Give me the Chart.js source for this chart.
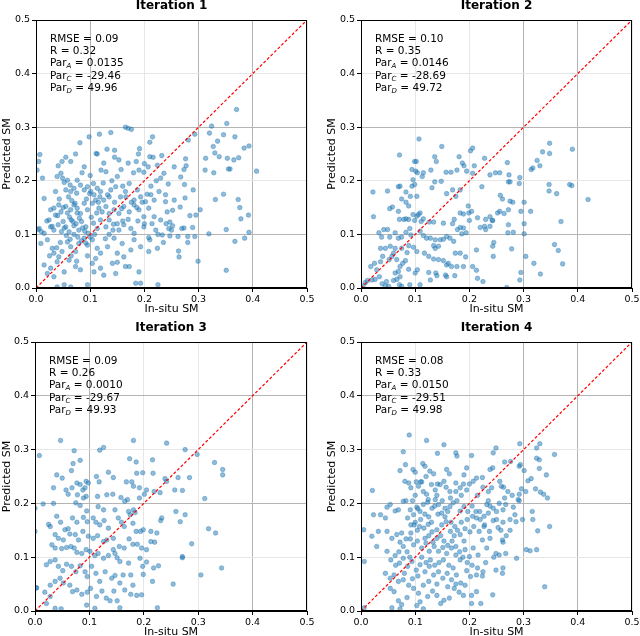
<!DOCTYPE html>
<html>
<head>
<meta charset="utf-8">
<script src="https://cdn.jsdelivr.net/npm/chart.js@4"></script>
<style>
  html, body { margin: 0; padding: 0; background: #fff; overflow: hidden; }
  .panel { position: absolute; width: 320px; }
</style>
</head>
<body>
<div class="panel" style="left:0;top:0;height:318px"><canvas id="c1"></canvas></div>
<div class="panel" style="left:320px;top:0;height:318px"><canvas id="c2"></canvas></div>
<div class="panel" style="left:0;top:318px;height:323px"><canvas id="c3"></canvas></div>
<div class="panel" style="left:320px;top:318px;height:323px"><canvas id="c4"></canvas></div>
<script>
// --- data ---
const titles = ["Iteration 1", "Iteration 2", "Iteration 3", "Iteration 4"];
const rmse = ["0.09", "0.10", "0.09", "0.08"];
const rVals = ["0.32", "0.35", "0.26", "0.33"];
const parA = ["0.0135", "0.0146", "0.0010", "0.0150"];
const parC = ["-29.46", "-28.69", "-29.67", "-29.51"];
const parD = ["49.96", "49.72", "49.93", "49.98"];
const tickVals = [0, 0.1, 0.2, 0.3, 0.4, 0.5];
const oneToOne = [[0, 0], [0.5, 0.5]];

// [in-situ, predicted]
const points1 = [
  [0.370,0.333],[0.352,0.307],[0.324,0.302],[0.320,0.289],[0.346,0.286],[0.367,0.282],[0.293,0.287],[0.281,0.276],
  [0.335,0.274],[0.327,0.264],[0.384,0.261],[0.393,0.265],[0.330,0.252],[0.338,0.245],[0.313,0.242],[0.353,0.242],
  [0.365,0.239],[0.374,0.243],[0.276,0.241],[0.255,0.226],[0.277,0.228],[0.273,0.221],[0.312,0.220],[0.328,0.215],
  [0.355,0.222],[0.358,0.222],[0.407,0.218],[0.267,0.207],[0.274,0.193],[0.290,0.183],[0.346,0.175],[0.255,0.164],
  [0.275,0.168],[0.331,0.165],[0.373,0.165],[0.266,0.151],[0.376,0.150],[0.303,0.146],[0.252,0.145],[0.284,0.135],
  [0.295,0.136],[0.392,0.136],[0.378,0.129],[0.247,0.123],[0.252,0.116],[0.269,0.111],[0.273,0.112],[0.289,0.113],
  [0.351,0.109],[0.393,0.104],[0.247,0.097],[0.262,0.096],[0.280,0.096],[0.293,0.096],[0.319,0.101],[0.385,0.093],
  [0.367,0.087],[0.280,0.085],[0.263,0.069],[0.264,0.058],[0.299,0.050],[0.351,0.033],
  [0.165,0.300],[0.170,0.298],[0.176,0.296],[0.098,0.282],[0.117,0.287],[0.138,0.290],[0.081,0.271],[0.215,0.282],
  [0.210,0.272],[0.145,0.257],[0.131,0.259],[0.111,0.251],[0.113,0.250],[0.073,0.250],[0.191,0.260],[0.189,0.250],
  [0.216,0.244],[0.232,0.247],[0.007,0.249],[0.005,0.236],[0.002,0.220],[0.055,0.244],[0.048,0.236],[0.064,0.236],
  [0.041,0.228],[0.089,0.226],[0.125,0.233],[0.129,0.217],[0.145,0.244],[0.153,0.239],[0.170,0.233],[0.157,0.221],
  [0.185,0.236],[0.190,0.220],[0.207,0.226],[0.199,0.216],[0.224,0.229],[0.236,0.214],[0.244,0.194],[0.239,0.174],
  [0.012,0.205],[0.004,0.109],
  [0.015,0.167],[0.039,0.208],[0.046,0.214],[0.049,0.205],[0.052,0.197],[0.058,0.201],[0.063,0.192],[0.055,0.183],
  [0.064,0.180],[0.070,0.186],[0.076,0.201],[0.082,0.192],[0.075,0.177],[0.089,0.183],[0.095,0.189],[0.101,0.180],
  [0.107,0.174],[0.113,0.186],[0.119,0.180],[0.125,0.164],[0.132,0.174],[0.138,0.183],[0.147,0.189],[0.156,0.170],
  [0.165,0.180],[0.172,0.195],[0.181,0.164],[0.187,0.183],[0.193,0.170],[0.202,0.161],[0.212,0.174],[0.218,0.164],
  [0.227,0.180],[0.239,0.161],[0.027,0.146],[0.033,0.149],[0.042,0.155],[0.024,0.127],[0.036,0.136],[0.046,0.142],
  [0.055,0.152],[0.064,0.146],[0.070,0.155],[0.076,0.149],[0.082,0.139],[0.089,0.158],[0.095,0.146],[0.104,0.158],
  [0.110,0.164],[0.116,0.149],[0.122,0.142],[0.129,0.152],[0.135,0.139],[0.144,0.146],[0.153,0.139],[0.162,0.152],
  [0.172,0.142],[0.181,0.155],[0.190,0.146],[0.199,0.133],[0.208,0.149],[0.218,0.133],[0.230,0.127],[0.242,0.142],
  [0.006,0.111],[0.015,0.102],[0.027,0.114],[0.033,0.108],[0.041,0.118],[0.050,0.124],[0.055,0.114],[0.061,0.105],
  [0.065,0.127],[0.070,0.116],[0.079,0.108],[0.084,0.124],[0.092,0.114],[0.096,0.102],[0.106,0.121],[0.113,0.111],
  [0.119,0.127],[0.129,0.114],[0.135,0.127],[0.143,0.119],[0.153,0.108],[0.162,0.118],[0.175,0.111],[0.181,0.102],
  [0.199,0.114],[0.208,0.094],[0.221,0.108],[0.233,0.099],[0.245,0.111],
  [0.009,0.083],[0.021,0.090],[0.030,0.074],[0.033,0.065],[0.042,0.058],[0.048,0.068],[0.058,0.086],[0.064,0.077],
  [0.073,0.068],[0.079,0.083],[0.089,0.093],[0.095,0.080],[0.104,0.090],[0.113,0.074],[0.119,0.065],[0.132,0.077],
  [0.144,0.093],[0.150,0.065],[0.159,0.083],[0.175,0.071],[0.181,0.090],[0.193,0.077],[0.208,0.068],[0.224,0.074],
  [0.015,0.043],[0.027,0.037],[0.039,0.049],[0.021,0.027],[0.033,0.021],[0.052,0.030],[0.061,0.052],[0.073,0.040],
  [0.082,0.034],[0.104,0.046],[0.107,0.030],[0.119,0.037],[0.125,0.024],[0.141,0.046],[0.147,0.027],[0.162,0.058],
  [0.172,0.040],[0.184,0.009],[0.193,0.009],[0.225,0.006],[0.095,0.006],[0.039,0.002],[0.052,0.006],[0.064,0.002],
  [0.060,0.170],[0.066,0.163],[0.072,0.158],[0.058,0.140],[0.062,0.132],[0.068,0.124],[0.074,0.120],[0.080,0.130],
  [0.086,0.112],[0.090,0.106],[0.052,0.112],[0.047,0.105],[0.056,0.098],[0.063,0.091],[0.070,0.100],[0.077,0.095],
  [0.084,0.088],[0.092,0.084],[0.100,0.095],[0.108,0.100],[0.112,0.140],[0.118,0.170],[0.124,0.196],[0.099,0.176],
  [0.093,0.166],[0.106,0.195],[0.140,0.200],[0.150,0.208],[0.160,0.190],[0.166,0.170],[0.176,0.160],[0.186,0.150],
  [0.196,0.160],[0.205,0.175],[0.212,0.190],[0.222,0.200],[0.230,0.205],[0.160,0.125],[0.170,0.128],[0.150,0.120],
  [0.142,0.108],[0.135,0.100],[0.128,0.092],[0.020,0.125],[0.030,0.115],[0.010,0.105],[0.036,0.180],[0.043,0.166],
  [0.050,0.150],[0.040,0.135],[0.180,0.215],[0.200,0.232],[0.210,0.245],[0.120,0.220],[0.100,0.210],[0.085,0.215],
  [0.076,0.140],[0.102,0.132],[0.115,0.160],[0.135,0.170],[0.145,0.160],[0.158,0.148],[0.188,0.125],[0.200,0.120],
  [0.214,0.120],[0.240,0.120],[0.250,0.108],[0.065,0.060],[0.075,0.050],[0.095,0.060],[0.110,0.055],[0.150,0.048],
  [0.165,0.040],[0.190,0.030],[0.210,0.090],[0.225,0.100],[0.235,0.085],[0.045,0.085],[0.038,0.075],[0.025,0.060]
];

const points2 = [
  [0.107,0.278],[0.149,0.264],[0.206,0.261],[0.202,0.256],[0.071,0.248],[0.136,0.245],[0.139,0.236],[0.181,0.245],
  [0.228,0.242],[0.099,0.236],[0.102,0.236],[0.187,0.233],[0.190,0.228],[0.270,0.234],[0.209,0.228],[0.195,0.218],
  [0.094,0.221],[0.101,0.218],[0.104,0.215],[0.115,0.215],[0.129,0.220],[0.157,0.216],[0.166,0.216],[0.177,0.220],
  [0.206,0.214],[0.238,0.211],[0.248,0.215],[0.256,0.215],[0.273,0.211],[0.293,0.206],[0.272,0.198],[0.275,0.198],
  [0.292,0.195],[0.223,0.189],[0.096,0.202],[0.113,0.208],[0.094,0.190],[0.099,0.193],[0.136,0.198],[0.148,0.199],
  [0.131,0.187],[0.069,0.189],[0.072,0.190],[0.049,0.181],[0.022,0.179],[0.083,0.179],[0.091,0.171],[0.103,0.171],
  [0.158,0.176],[0.169,0.183],[0.183,0.183],[0.175,0.171],[0.257,0.173],[0.261,0.166],[0.275,0.162],[0.280,0.160],
  [0.301,0.160],[0.313,0.143],[0.295,0.143],[0.272,0.146],[0.252,0.140],[0.256,0.143],[0.264,0.139],[0.238,0.133],
  [0.230,0.128],[0.243,0.126],[0.075,0.166],[0.083,0.160],[0.088,0.153],[0.058,0.151],[0.053,0.148],[0.069,0.143],
  [0.109,0.140],[0.106,0.137],[0.103,0.134],[0.096,0.137],[0.023,0.133],[0.071,0.128],[0.079,0.128],[0.083,0.129],
  [0.088,0.128],[0.099,0.126],[0.111,0.124],[0.115,0.129],[0.126,0.123],[0.134,0.123],[0.152,0.121],[0.169,0.120],
  [0.172,0.128],[0.183,0.140],[0.189,0.138],[0.199,0.140],[0.204,0.143],[0.198,0.153],[0.215,0.131],[0.200,0.126],
  [0.189,0.112],[0.183,0.113],[0.178,0.109],[0.194,0.103],[0.186,0.101],[0.220,0.113],[0.228,0.115],[0.238,0.115],
  [0.242,0.126],[0.230,0.109],[0.272,0.118],[0.271,0.103],[0.281,0.104],[0.301,0.101],[0.301,0.120],
  [0.033,0.103],[0.042,0.109],[0.049,0.109],[0.038,0.095],[0.053,0.095],[0.063,0.103],[0.069,0.093],[0.075,0.095],
  [0.083,0.104],[0.090,0.111],[0.092,0.099],[0.109,0.106],[0.115,0.098],[0.121,0.093],[0.128,0.093],[0.137,0.090],
  [0.146,0.090],[0.152,0.091],[0.158,0.096],[0.164,0.093],[0.171,0.087],[0.134,0.079],[0.137,0.074],[0.143,0.078],
  [0.036,0.074],[0.045,0.074],[0.054,0.078],[0.063,0.074],[0.075,0.074],[0.085,0.066],[0.088,0.079],[0.097,0.076],
  [0.103,0.068],[0.117,0.065],[0.125,0.059],[0.134,0.054],[0.143,0.053],[0.152,0.051],[0.161,0.046],[0.158,0.043],
  [0.167,0.040],[0.177,0.040],[0.174,0.065],[0.183,0.065],[0.193,0.058],[0.213,0.071],[0.243,0.078],[0.245,0.085],
  [0.244,0.059],[0.278,0.073],[0.304,0.059],[0.319,0.046],[0.357,0.081],[0.364,0.070],[0.372,0.045],[0.369,0.124],
  [0.348,0.270],[0.348,0.251],[0.390,0.259],[0.335,0.254],[0.325,0.238],[0.330,0.228],[0.317,0.224],[0.314,0.221],
  [0.347,0.193],[0.347,0.181],[0.361,0.176],[0.385,0.193],[0.389,0.191],[0.419,0.165],[0.331,0.026],[0.293,0.015],
  [0.295,0.029],[0.269,0.001],[0.225,0.012],[0.215,0.018],[0.206,0.040],[0.213,0.033],[0.189,0.040],[0.173,0.023],
  [0.158,0.021],[0.156,0.024],[0.140,0.023],[0.138,0.028],[0.125,0.029],[0.128,0.015],[0.109,0.006],[0.100,0.028],
  [0.104,0.034],[0.088,0.035],[0.090,0.006],[0.072,0.040],[0.069,0.031],[0.072,0.021],[0.063,0.028],[0.066,0.016],
  [0.060,0.014],[0.047,0.012],[0.045,0.004],[0.039,0.008],[0.034,0.021],[0.026,0.016],[0.020,0.015],[0.018,0.040],
  [0.025,0.046],[0.008,0.010],[0.012,0.014],[0.004,0.004],[0.029,0.034],[0.036,0.049],[0.040,0.059],[0.052,0.053],
  [0.057,0.059],[0.060,0.065],[0.066,0.053],[0.077,0.046],[0.082,0.051],[0.051,0.003],[0.075,0.003],[0.071,0.006]
];

const points3 = [
  [0.047,0.317],[0.126,0.304],[0.119,0.299],[0.072,0.298],[0.008,0.289],[0.181,0.317],[0.242,0.312],[0.276,0.300],
  [0.298,0.291],[0.330,0.276],[0.345,0.263],[0.345,0.253],[0.174,0.283],[0.186,0.277],[0.216,0.281],[0.070,0.274],
  [0.083,0.280],[0.067,0.261],[0.040,0.253],[0.050,0.247],[0.113,0.250],[0.118,0.240],[0.135,0.258],[0.144,0.248],
  [0.168,0.240],[0.178,0.240],[0.187,0.256],[0.198,0.257],[0.217,0.256],[0.239,0.246],[0.242,0.241],[0.263,0.248],
  [0.284,0.248],[0.257,0.225],[0.271,0.224],[0.230,0.220],[0.219,0.222],[0.181,0.232],[0.192,0.229],[0.205,0.225],
  [0.094,0.241],[0.098,0.238],[0.077,0.238],[0.083,0.235],[0.034,0.229],[0.057,0.225],[0.061,0.217],[0.068,0.229],
  [0.088,0.225],[0.092,0.229],[0.078,0.216],[0.094,0.213],[0.089,0.210],[0.115,0.213],[0.132,0.216],[0.143,0.217],
  [0.158,0.211],[0.165,0.204],[0.170,0.207],[0.192,0.210],[0.201,0.217],[0.312,0.209],[0.015,0.199],[0.034,0.200],
  [0.000,0.191],[0.075,0.201],[0.083,0.196],[0.095,0.186],[0.116,0.194],[0.126,0.188],[0.147,0.188],[0.172,0.185],
  [0.175,0.179],[0.181,0.188],[0.184,0.183],[0.259,0.185],[0.276,0.179],[0.040,0.176],[0.047,0.165],[0.069,0.173],
  [0.077,0.165],[0.089,0.174],[0.096,0.166],[0.107,0.173],[0.112,0.165],[0.119,0.160],[0.127,0.168],[0.135,0.154],
  [0.153,0.173],[0.159,0.165],[0.164,0.157],[0.180,0.163],[0.186,0.148],[0.194,0.148],[0.199,0.151],[0.213,0.148],
  [0.224,0.145],[0.233,0.173],[0.231,0.168],[0.267,0.166],[0.319,0.153],[0.332,0.145],[0.025,0.161],[0.028,0.157],
  [0.055,0.151],[0.061,0.153],[0.064,0.143],[0.037,0.142],[0.043,0.135],[0.052,0.132],[0.074,0.142],[0.080,0.132],
  [0.088,0.148],[0.098,0.139],[0.107,0.135],[0.115,0.140],[0.126,0.129],[0.132,0.132],[0.144,0.135],[0.155,0.120],
  [0.164,0.117],[0.173,0.134],[0.180,0.124],[0.188,0.124],[0.196,0.117],[0.205,0.114],[0.213,0.129],[0.220,0.128],
  [0.288,0.125],[0.031,0.123],[0.037,0.117],[0.049,0.116],[0.058,0.118],[0.066,0.120],[0.072,0.117],[0.077,0.109],
  [0.086,0.107],[0.094,0.114],[0.101,0.111],[0.110,0.103],[0.116,0.107],[0.126,0.098],[0.135,0.103],[0.144,0.114],
  [0.147,0.107],[0.151,0.099],[0.156,0.092],[0.172,0.089],[0.193,0.098],[0.198,0.083],[0.205,0.091],[0.218,0.080],
  [0.227,0.084],[0.271,0.101],[0.271,0.099],[0.343,0.080],[0.021,0.086],[0.028,0.092],[0.037,0.095],[0.043,0.083],
  [0.051,0.075],[0.058,0.087],[0.067,0.083],[0.075,0.073],[0.083,0.084],[0.092,0.073],[0.096,0.064],[0.104,0.083],
  [0.112,0.070],[0.119,0.055],[0.129,0.073],[0.141,0.061],[0.147,0.066],[0.156,0.052],[0.162,0.067],[0.176,0.067],
  [0.180,0.048],[0.199,0.068],[0.216,0.055],[0.254,0.050],[0.305,0.067],[0.003,0.043],[0.028,0.048],[0.037,0.055],
  [0.046,0.061],[0.052,0.052],[0.064,0.048],[0.069,0.036],[0.077,0.039],[0.086,0.031],[0.096,0.035],[0.102,0.042],
  [0.113,0.027],[0.123,0.037],[0.131,0.024],[0.138,0.019],[0.145,0.037],[0.151,0.019],[0.165,0.039],[0.176,0.031],
  [0.187,0.029],[0.196,0.030],[0.018,0.035],[0.028,0.027],[0.021,0.014],[0.037,0.005],[0.048,0.004],[0.095,0.011],
  [0.110,0.005],[0.156,0.006],[0.225,0.006],[0.000,0.148],[0.002,0.043]
];

const points4 = [
  [0.089,0.327],[0.121,0.317],[0.153,0.309],[0.078,0.296],[0.141,0.293],[0.175,0.294],[0.177,0.288],[0.204,0.289],
  [0.249,0.303],[0.244,0.294],[0.293,0.311],[0.330,0.311],[0.324,0.303],[0.357,0.291],[0.329,0.281],[0.324,0.284],
  [0.276,0.278],[0.265,0.277],[0.292,0.269],[0.294,0.272],[0.329,0.265],[0.342,0.253],[0.301,0.261],[0.082,0.272],
  [0.072,0.261],[0.114,0.274],[0.118,0.269],[0.096,0.263],[0.100,0.258],[0.127,0.260],[0.134,0.255],[0.158,0.263],
  [0.163,0.255],[0.195,0.266],[0.190,0.253],[0.238,0.263],[0.243,0.266],[0.021,0.224],[0.036,0.179],[0.023,0.179],
  [0.045,0.173],[0.005,0.151],[0.020,0.139],[0.029,0.120],[0.006,0.092],[0.032,0.148],[0.048,0.193],[0.054,0.198],
  [0.063,0.186],[0.069,0.188],[0.078,0.204],[0.083,0.205],[0.081,0.241],[0.088,0.238],[0.092,0.229],[0.102,0.240],
  [0.106,0.232],[0.112,0.240],[0.115,0.222],[0.121,0.217],[0.124,0.207],[0.137,0.225],[0.141,0.236],[0.146,0.235],
  [0.153,0.241],[0.157,0.230],[0.164,0.222],[0.175,0.222],[0.183,0.229],[0.189,0.236],[0.200,0.236],[0.207,0.241],
  [0.213,0.247],[0.224,0.248],[0.235,0.222],[0.241,0.229],[0.256,0.241],[0.259,0.232],[0.263,0.230],[0.271,0.222],
  [0.279,0.215],[0.292,0.217],[0.304,0.222],[0.296,0.227],[0.308,0.242],[0.314,0.246],[0.322,0.227],[0.331,0.221],
  [0.337,0.217],[0.344,0.210],[0.290,0.207],[0.292,0.205],[0.281,0.193],[0.284,0.179],[0.262,0.188],[0.267,0.198],
  [0.244,0.191],[0.250,0.185],[0.232,0.198],[0.235,0.182],[0.227,0.176],[0.219,0.185],[0.213,0.173],[0.206,0.176],
  [0.197,0.185],[0.190,0.194],[0.183,0.186],[0.177,0.205],[0.170,0.201],[0.164,0.194],[0.155,0.191],[0.149,0.182],
  [0.143,0.198],[0.137,0.207],[0.131,0.191],[0.123,0.202],[0.115,0.198],[0.109,0.185],[0.103,0.193],[0.097,0.179],
  [0.091,0.188],[0.086,0.173],[0.092,0.160],[0.100,0.165],[0.108,0.157],[0.116,0.154],[0.124,0.161],[0.131,0.147],
  [0.140,0.151],[0.149,0.160],[0.157,0.166],[0.165,0.148],[0.173,0.157],[0.183,0.142],[0.192,0.153],[0.201,0.147],
  [0.208,0.157],[0.218,0.148],[0.227,0.157],[0.237,0.148],[0.244,0.168],[0.253,0.155],[0.262,0.165],[0.275,0.170],
  [0.286,0.166],[0.298,0.170],[0.316,0.185],[0.317,0.170],[0.305,0.114],[0.312,0.112],[0.324,0.114],[0.326,0.149],
  [0.348,0.157],[0.287,0.098],[0.261,0.132],[0.262,0.128],[0.267,0.107],[0.249,0.107],[0.255,0.104],[0.262,0.080],
  [0.261,0.070],[0.249,0.076],[0.339,0.045],[0.048,0.148],[0.057,0.135],[0.066,0.142],[0.075,0.145],[0.083,0.134],
  [0.072,0.128],[0.091,0.134],[0.097,0.123],[0.104,0.130],[0.112,0.117],[0.120,0.126],[0.126,0.111],[0.135,0.120],
  [0.143,0.111],[0.151,0.118],[0.158,0.107],[0.167,0.117],[0.175,0.104],[0.183,0.095],[0.192,0.114],[0.200,0.101],
  [0.207,0.117],[0.216,0.104],[0.224,0.132],[0.232,0.117],[0.238,0.135],[0.048,0.111],[0.055,0.095],[0.063,0.103],
  [0.071,0.089],[0.078,0.098],[0.086,0.083],[0.094,0.092],[0.102,0.076],[0.109,0.086],[0.118,0.073],[0.126,0.083],
  [0.134,0.067],[0.143,0.073],[0.151,0.061],[0.159,0.070],[0.167,0.058],[0.176,0.067],[0.184,0.052],[0.192,0.048],
  [0.202,0.064],[0.213,0.067],[0.224,0.065],[0.225,0.073],[0.045,0.070],[0.054,0.061],[0.061,0.067],[0.069,0.055],
  [0.078,0.058],[0.088,0.048],[0.097,0.042],[0.106,0.033],[0.115,0.048],[0.123,0.027],[0.132,0.037],[0.140,0.029],
  [0.147,0.014],[0.153,0.020],[0.163,0.024],[0.172,0.042],[0.181,0.035],[0.189,0.029],[0.204,0.014],[0.213,0.036],
  [0.221,0.014],[0.243,0.030],[0.204,0.029],[0.054,0.042],[0.061,0.036],[0.069,0.019],[0.075,0.012],[0.072,0.004],
  [0.103,0.010],[0.115,0.004],[0.109,0.017],[0.085,0.025],[0.057,0.006],[0.006,0.006],
  [0.095,0.205],[0.100,0.215],[0.105,0.190],[0.110,0.170],[0.098,0.160],[0.092,0.145],[0.104,0.150],[0.118,0.180],
  [0.125,0.175],[0.130,0.165],[0.136,0.195],[0.142,0.180],[0.150,0.205],[0.155,0.175],[0.160,0.185],[0.166,0.165],
  [0.172,0.140],[0.178,0.150],[0.185,0.165],[0.190,0.130],[0.196,0.170],[0.205,0.195],[0.212,0.185],[0.220,0.170],
  [0.228,0.160],[0.238,0.195],[0.250,0.170],[0.258,0.150],[0.268,0.140],[0.275,0.150],[0.118,0.135],[0.125,0.140],
  [0.133,0.128],[0.140,0.135],[0.147,0.140],[0.153,0.130],[0.160,0.122],[0.168,0.130],[0.175,0.120],[0.182,0.110],
  [0.188,0.100],[0.196,0.090],[0.205,0.085],[0.112,0.100],[0.120,0.090],[0.128,0.095],[0.136,0.085],[0.144,0.090],
  [0.152,0.095],[0.162,0.085],[0.170,0.080],[0.090,0.100],[0.085,0.110],[0.078,0.120],[0.070,0.110],[0.064,0.085],
  [0.080,0.070],[0.095,0.060],[0.105,0.065],[0.125,0.055],[0.140,0.050],[0.160,0.045],[0.175,0.050],[0.195,0.075],
  [0.215,0.080],[0.230,0.090],[0.245,0.100],[0.110,0.240],[0.120,0.250],[0.130,0.235],[0.140,0.215],[0.165,0.210],
  [0.175,0.238],[0.185,0.215],[0.195,0.225],[0.215,0.215],[0.225,0.230],[0.235,0.205],[0.255,0.200],[0.265,0.210]
];

// --- layout of each panel (pixels) ---
const panels = [
  { id: "c1", pts: points1, padLeft: 0, yW: 36, padRight: 13, padTop: 20, darkX: [1, 3, 4], darkY: [1, 3] },
  { id: "c2", pts: points2, padLeft: 5, yW: 36, padRight: 8, padTop: 20, darkX: [3, 4], darkY: [1, 3] },
  { id: "c3", pts: points3, padLeft: 0, yW: 35, padRight: 13, padTop: 24, darkX: [1, 4], darkY: [2, 4] },
  { id: "c4", pts: points4, padLeft: 5, yW: 36, padRight: 8, padTop: 24, darkX: [3, 4], darkY: [2, 4] }
];

const FONT = "'DejaVu Sans', sans-serif";

// frame, title and the stats text block
const annotate = {
  id: "annotate",
  afterDraw(chart) {
    const k = chart.options.plugins.annotate.k;
    const a = chart.chartArea;
    const ctx = chart.ctx;
    ctx.save();
    ctx.strokeStyle = "#000";
    ctx.lineWidth = 1;
    ctx.strokeRect(Math.round(a.left) + 0.5, Math.round(a.top) + 0.5,
                   Math.round(a.right - a.left) - 1, Math.round(a.bottom - a.top) - 1);

    ctx.fillStyle = "#000";
    ctx.textAlign = "center";
    ctx.textBaseline = "alphabetic";
    ctx.font = "bold 12px " + FONT;
    ctx.fillText(titles[k], (a.left + a.right) / 2, a.top - 11);

    ctx.textAlign = "left";
    ctx.textBaseline = "middle";
    const x0 = a.left + 14;
    let y = a.top + 19;
    const step = 12.3;
    const big = "10.5px " + FONT;
    const small = "italic 7px " + FONT;
    ctx.font = big;
    ctx.fillText("RMSE = " + rmse[k], x0, y); y += step;
    ctx.fillText("R = " + rVals[k], x0, y); y += step;
    const parLine = (sub, val) => {
      ctx.font = big;
      ctx.fillText("Par", x0, y);
      let x = x0 + ctx.measureText("Par").width;
      ctx.font = small;
      ctx.fillText(sub, x, y + 3);
      x += ctx.measureText(sub).width;
      ctx.font = big;
      ctx.fillText(" = " + val, x, y);
      y += step;
    };
    parLine("A", parA[k]);
    parLine("C", parC[k]);
    parLine("D", parD[k]);
    ctx.restore();
  }
};

function gridColor(dark) {
  return c => (dark.includes(Math.round(c.tick.value * 10)) ? "#b4b4b4" : "#e6e6e6");
}

panels.forEach((p, k) => {
  new Chart(document.getElementById(p.id), {
    type: "scatter",
    data: {
      datasets: [
        {
          type: "line",
          data: oneToOne.map(d => ({ x: d[0], y: d[1] })),
          borderColor: "#ff0000",
          borderWidth: 1.2,
          borderDash: [3, 2],
          pointRadius: 0,
          order: 0
        },
        {
          data: p.pts.map(d => ({ x: d[0], y: d[1] })),
          backgroundColor: "rgba(31,119,180,0.5)",
          borderColor: "rgba(31,119,180,0.6)",
          borderWidth: 0.6,
          pointRadius: 2.3,
          order: 1
        }
      ]
    },
    options: {
      responsive: true,
      maintainAspectRatio: false,
      animation: false,
      layout: { padding: { left: p.padLeft, right: p.padRight, top: p.padTop, bottom: 0 } },
      plugins: {
        legend: { display: false },
        tooltip: { enabled: false },
        annotate: { k: k }
      },
      scales: {
        x: {
          type: "linear",
          min: 0, max: 0.5,
          afterBuildTicks: s => { s.ticks = tickVals.map(v => ({ value: v })); },
          afterFit: s => { s.height = 30; s.paddingLeft = 0; s.paddingRight = 0; },
          ticks: { callback: v => v.toFixed(1), color: "#000", font: { family: FONT, size: 9.5 }, padding: 2, maxRotation: 0 },
          grid: { color: gridColor(p.darkX), tickColor: "#000", tickLength: 4 },
          border: { color: "#000", width: 1 },
          title: { display: true, text: "In-situ SM", color: "#000", font: { family: FONT, size: 11 }, padding: { top: 0, bottom: 2 } }
        },
        y: {
          type: "linear",
          min: 0, max: 0.5,
          afterBuildTicks: s => { s.ticks = tickVals.map(v => ({ value: v })); },
          afterFit: s => { s.width = p.yW; },
          ticks: { callback: v => v.toFixed(1), color: "#000", font: { family: FONT, size: 9.5 }, padding: 2 },
          grid: { color: gridColor(p.darkY), tickColor: "#000", tickLength: 4 },
          border: { color: "#000", width: 1 },
          title: { display: true, text: "Predicted SM", color: "#000", font: { family: FONT, size: 11 }, padding: { top: 1, bottom: 0 } }
        }
      }
    },
    plugins: [annotate]
  });
});
</script>
</body>
</html>
